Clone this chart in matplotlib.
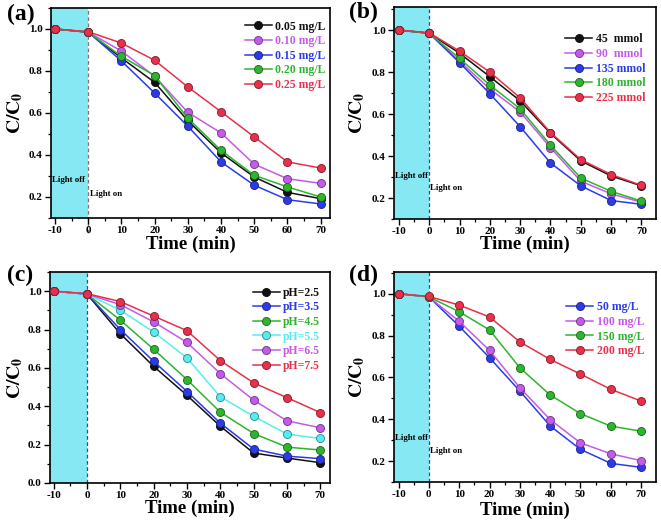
import matplotlib
matplotlib.use('Agg')
import matplotlib.pyplot as plt
import matplotlib.colors as mc
from matplotlib.ticker import MultipleLocator, FormatStrFormatter

plt.rcParams['font.family'] = ['Liberation Serif', 'DejaVu Serif']
plt.rcParams['font.weight'] = 'bold'
plt.rcParams['mathtext.fontset'] = 'stix'
plt.rcParams['axes.unicode_minus'] = False

# ---------------- data ----------------
time = [-10, 0, 10, 20, 30, 40, 50, 60, 70]

a_labels = ['0.05 mg/L', '0.10 mg/L', '0.15 mg/L', '0.20 mg/L', '0.25 mg/L']
a_005 = [1.0, 0.985, 0.862, 0.746, 0.563, 0.410, 0.295, 0.222, 0.192]
a_010 = [1.0, 0.985, 0.895, 0.775, 0.603, 0.505, 0.356, 0.287, 0.265]
a_015 = [1.0, 0.985, 0.848, 0.695, 0.537, 0.367, 0.256, 0.187, 0.167]
a_020 = [1.0, 0.985, 0.870, 0.778, 0.575, 0.422, 0.303, 0.248, 0.200]
a_025 = [1.0, 0.987, 0.933, 0.851, 0.724, 0.606, 0.486, 0.367, 0.338]

b_labels = ['45  mmol', '90  mmol', '135 mmol', '180 mmol', '225 mmol']
b_45 = [1.0, 0.985, 0.890, 0.778, 0.663, 0.508, 0.377, 0.305, 0.258]
b_90 = [1.0, 0.985, 0.852, 0.720, 0.610, 0.440, 0.280, 0.220, 0.180]
b_135 = [1.0, 0.985, 0.845, 0.697, 0.540, 0.367, 0.258, 0.188, 0.170]
b_180 = [1.0, 0.985, 0.865, 0.738, 0.625, 0.452, 0.295, 0.232, 0.185]
b_225 = [1.0, 0.987, 0.900, 0.800, 0.677, 0.512, 0.383, 0.312, 0.260]

c_labels = ['pH=2.5', 'pH=3.5', 'pH=4.5', 'pH=5.5', 'pH=6.5', 'pH=7.5']
c_25 = [1.0, 0.985, 0.778, 0.608, 0.457, 0.296, 0.156, 0.130, 0.106]
c_35 = [1.0, 0.985, 0.800, 0.634, 0.477, 0.312, 0.177, 0.140, 0.127]
c_45 = [1.0, 0.985, 0.849, 0.697, 0.539, 0.369, 0.258, 0.187, 0.172]
c_55 = [1.0, 0.985, 0.901, 0.787, 0.652, 0.449, 0.348, 0.255, 0.232]
c_65 = [1.0, 0.985, 0.930, 0.840, 0.733, 0.570, 0.432, 0.324, 0.288]
c_75 = [1.0, 0.987, 0.946, 0.870, 0.794, 0.638, 0.522, 0.445, 0.367]

d_labels = ['50 mg/L', '100 mg/L', '150 mg/L', '200 mg/L']
d_50 = [1.0, 0.985, 0.845, 0.694, 0.535, 0.368, 0.256, 0.189, 0.170]
d_100 = [1.0, 0.985, 0.868, 0.729, 0.551, 0.398, 0.287, 0.235, 0.202]
d_150 = [1.0, 0.985, 0.914, 0.827, 0.646, 0.516, 0.427, 0.367, 0.343]
d_200 = [1.0, 0.987, 0.946, 0.889, 0.770, 0.686, 0.616, 0.543, 0.487]

xticks = [-10, 0, 10, 20, 30, 40, 50, 60, 70]

# ---------------- style ----------------
BLACK = '#111111'
VIOLET = '#C45AEC'
BLUE = '#2B3BEA'
GREEN = '#2DB52D'
RED = '#E8304A'
CYAN = '#55EEF0'
SHADE = '#86E8F2'


def darker(c, f=0.55):
    r, g, b = mc.to_rgb(c)
    return (r * f, g * f, b * f)


fig = plt.figure(figsize=(6.61, 5.30), dpi=100)
W, H = 661.0, 530.0


def make_ax(l, r, t, b):
    return fig.add_axes([l / W, 1 - b / H, (r - l) / W, (b - t) / H])


def setup(ax, xlim, ylim, yticks, vcolor, ylab_x, xlab_y, vline_below=False):
    ax.set_xlim(*xlim)
    ax.set_ylim(*ylim)
    ax.axvspan(xlim[0], 0, color=SHADE, zorder=0, lw=0)
    ax.axvline(0, ymin=-0.07 if vline_below else 0, color=vcolor,
               ls=(0, (3, 2)), lw=0.9, zorder=1, clip_on=not vline_below)
    ax.set_xticks(xticks)
    ax.set_yticks(yticks)
    ax.xaxis.set_minor_locator(MultipleLocator(5))
    ax.yaxis.set_minor_locator(MultipleLocator(0.1))
    ax.yaxis.set_major_formatter(FormatStrFormatter('%.1f'))
    ax.tick_params(which='major', direction='out', length=4, width=1.0,
                   labelsize=8, pad=2, top=False, right=False)
    ax.tick_params(which='minor', direction='out', length=2.2, width=0.9,
                   top=False, right=False)
    for lab in ax.get_xticklabels() + ax.get_yticklabels():
        lab.set_fontweight('bold')
    for s in ax.spines.values():
        s.set_linewidth(1.2)
    pos = ax.get_position()
    fig.text(ylab_x / W, (pos.y0 + pos.y1) / 2, r'$\mathbf{C/C_0}$', rotation=90,
             ha='center', va='center', fontsize=14)
    fig.text((pos.x0 + pos.x1) / 2, 1 - xlab_y / H, 'Time (min)', ha='center',
             va='center', fontsize=13.5, fontweight='bold')


def series(ax, ys, colors, labels):
    for y, c, lab in zip(ys, colors, labels):
        ax.plot(time, y, '-', color=c, lw=1.1, marker='o', markersize=5.8,
                markerfacecolor=c, markeredgecolor=darker(c), markeredgewidth=0.6,
                label=lab, zorder=3)


def legend(ax, colors, anchor):
    leg = ax.legend(loc='upper right', bbox_to_anchor=anchor, frameon=False,
                    handlelength=2.3, handletextpad=0.3,
                    labelspacing=0.22, borderpad=0, borderaxespad=0, numpoints=1,
                    prop={'weight': 'bold', 'size': 8.5})
    for t, c in zip(leg.get_texts(), colors):
        t.set_color(c)
    return leg


# ---- (a)
ax = make_ax(51, 330, 8, 218)
setup(ax, (-11.2, 72.8), (0.1, 1.1), [0.2, 0.4, 0.6, 0.8, 1.0], '#777777', 15, 244,
      vline_below=True)
ca = [BLACK, VIOLET, BLUE, GREEN, RED]
series(ax, [a_005, a_010, a_015, a_020, a_025], ca, a_labels)
legend(ax, ca, (0.985, 0.94))
ax.text(-11.0, 0.283, 'Light off', fontsize=6.3, fontweight='bold', va='center', ha='left')
ax.text(0.4, 0.214, 'Light on', fontsize=6.3, fontweight='bold', va='center', ha='left')
fig.text(7 / W, 1 - 14 / H, '(a)', fontsize=17, fontweight='bold', va='center', ha='left')

# ---- (b)
ax = make_ax(394, 656, 7, 219)
setup(ax, (-11.6, 74.8), (0.1, 1.11), [0.2, 0.4, 0.6, 0.8, 1.0], BLUE, 357, 244)
cb = [BLACK, VIOLET, BLUE, GREEN, RED]
series(ax, [b_45, b_90, b_135, b_180, b_225], cb, b_labels)
legend(ax, cb, (0.96, 0.875))
ax.text(-11.4, 0.307, 'Light off', fontsize=6.3, fontweight='bold', va='center', ha='left')
ax.text(0.4, 0.247, 'Light on', fontsize=6.3, fontweight='bold', va='center', ha='left')
fig.text(349 / W, 1 - 12 / H, '(b)', fontsize=17, fontweight='bold', va='center', ha='left')

# ---- (c)
ax = make_ax(50, 330, 272, 483)
setup(ax, (-11.1, 72.9), (0.0, 1.1), [0.0, 0.2, 0.4, 0.6, 0.8, 1.0], BLUE, 15, 508)
cc = [BLACK, BLUE, GREEN, CYAN, VIOLET, RED]
series(ax, [c_25, c_35, c_45, c_55, c_65, c_75], cc, c_labels)
legend(ax, cc, (0.965, 0.93))
fig.text(7 / W, 1 - 275 / H, '(c)', fontsize=17, fontweight='bold', va='center', ha='left')

# ---- (d)
ax = make_ax(394, 656, 272, 482)
setup(ax, (-11.5, 74.9), (0.1, 1.104), [0.2, 0.4, 0.6, 0.8, 1.0], BLUE, 357, 510)
cd = [BLUE, VIOLET, GREEN, RED]
series(ax, [d_50, d_100, d_150, d_200], cd, d_labels)
legend(ax, cd, (0.955, 0.86))
ax.text(-11.3, 0.311, 'Light off', fontsize=6.3, fontweight='bold', va='center', ha='left')
ax.text(0.4, 0.249, 'Light on', fontsize=6.3, fontweight='bold', va='center', ha='left')
fig.text(349 / W, 1 - 275 / H, '(d)', fontsize=17, fontweight='bold', va='center', ha='left')

fig.savefig('out.png', dpi=100)
